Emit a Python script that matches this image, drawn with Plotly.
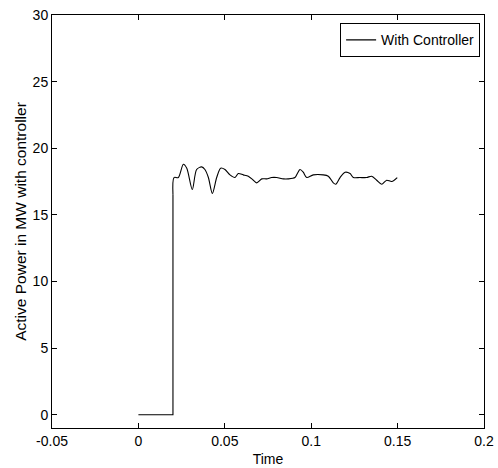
import plotly.graph_objects as go

step_t = [0.0, 0.02, 0.02]
step_p = [0.0, 0.0, 16.5]

osc_t = [0.02, 0.0206, 0.0231, 0.026, 0.028, 0.0312, 0.0337, 0.0366, 0.0385, 0.0405,
         0.0428, 0.0453, 0.0476, 0.0501, 0.053, 0.0559, 0.0578, 0.0607, 0.0636,
         0.0665, 0.0685, 0.0714, 0.0742, 0.0771, 0.08, 0.0839, 0.0867, 0.0906,
         0.092, 0.0935, 0.0954, 0.0974, 0.1012, 0.107, 0.1099, 0.1128, 0.1142,
         0.1167, 0.1196, 0.1225, 0.1244, 0.1282, 0.1321, 0.135, 0.1379, 0.1408,
         0.1437, 0.1466, 0.1498]
osc_p = [16.5, 17.8, 17.8, 18.8, 18.5, 16.9, 18.4, 18.6, 18.4, 17.8,
         16.6, 17.8, 18.5, 18.4, 18.0, 17.8, 18.1, 18.0, 17.9,
         17.6, 17.4, 17.7, 17.7, 17.8, 17.8, 17.7, 17.7, 17.8,
         18.1, 18.4, 18.2, 17.8, 18.0, 18.0, 17.9, 17.4, 17.3,
         17.8, 18.2, 18.1, 17.8, 17.8, 17.8, 17.9, 17.6, 17.3,
         17.6, 17.5, 17.8]

x_ticks = [-0.05, 0, 0.05, 0.1, 0.15, 0.2]
x_tick_labels = ["-0.05", "0", "0.05", "0.1", "0.15", "0.2"]
y_ticks = [0, 5, 10, 15, 20, 25, 30]

fig = go.Figure()
fig.add_trace(go.Scatter(x=step_t, y=step_p, mode="lines",
                         line=dict(color="black", width=1.1),
                         name="With Controller", showlegend=False))
fig.add_trace(go.Scatter(x=osc_t, y=osc_p, mode="lines",
                         line=dict(color="black", width=1.1, shape="spline", smoothing=0.8),
                         name="With Controller", showlegend=True))

axis_common = dict(showgrid=False, zeroline=False, showline=True, linecolor="black",
                   linewidth=1, mirror="allticks", ticks="inside", ticklen=5,
                   tickcolor="black", tickfont=dict(size=14, color="black"),
                   automargin=False, ticklabeloverflow="allow")

fig.update_layout(
    width=498, height=468,
    margin=dict(l=52, r=14, t=15, b=40),
    paper_bgcolor="white", plot_bgcolor="white",
    font=dict(family="Liberation Sans, Arial, sans-serif", size=14, color="black"),
    xaxis=dict(range=[-0.05, 0.2], tickvals=x_ticks, ticktext=x_tick_labels,
               title=dict(text="Time", standoff=6, font=dict(size=14)), **axis_common),
    yaxis=dict(range=[-1, 30], tickvals=y_ticks,
               title=dict(text="Active Power in MW with controller", standoff=2,
                          font=dict(size=15.5)),
               **axis_common),
    legend=dict(x=0.991, y=0.98, xanchor="right", yanchor="top",
                bordercolor="black", borderwidth=1, bgcolor="white",
                font=dict(size=14), itemwidth=30, tracegroupgap=0),
)

fig.write_html("out.html",
               config={"displayModeBar": False},
               post_script="document.body.style.margin='0';document.body.style.overflow='hidden';")
